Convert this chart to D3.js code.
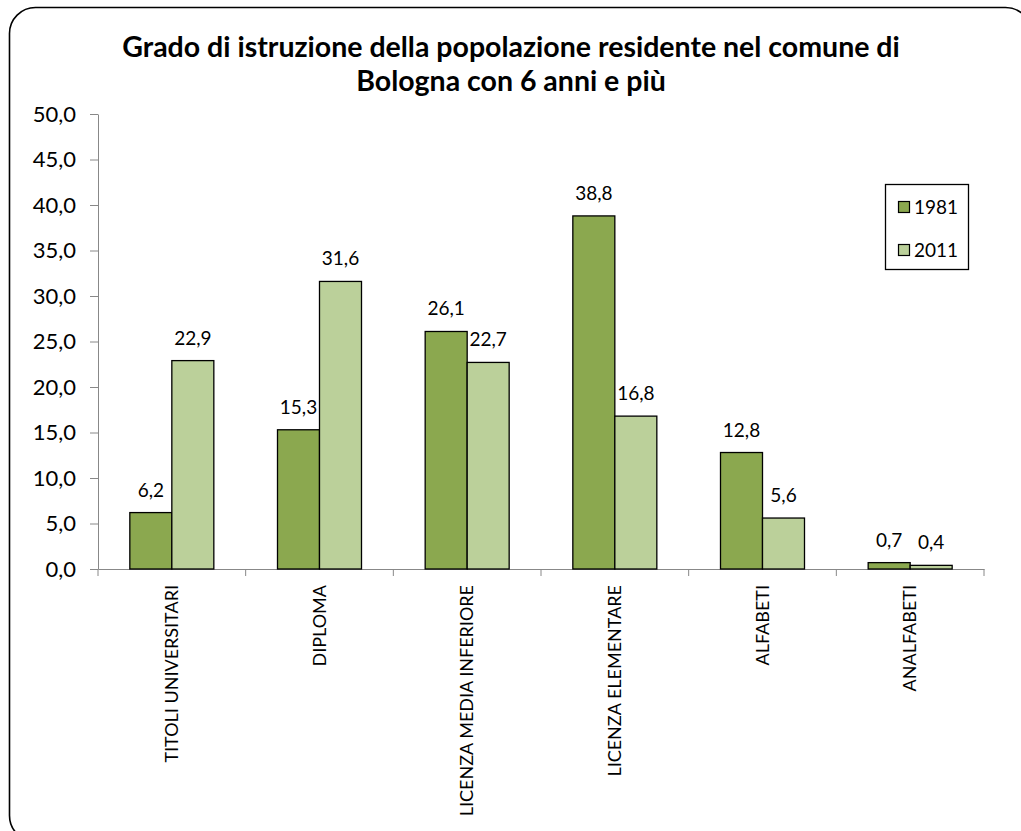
<!DOCTYPE html>
<html><head><meta charset="utf-8">
<script src="https://cdn.jsdelivr.net/npm/d3@7"></script>
<style>body{margin:0;background:#fff}svg{display:block}text{font-family:Lato,"Open Sans",sans-serif}</style>
</head><body><svg id="c" width="1021" height="831"></svg>
<script>
const categories = ["TITOLI UNIVERSITARI","DIPLOMA","LICENZA MEDIA INFERIORE","LICENZA ELEMENTARE","ALFABETI","ANALFABETI"];
const seriesNames = ["1981","2011"];
const values1981 = [6.2,15.3,26.1,38.8,12.8,0.7];
const values2011 = [22.9,31.6,22.7,16.8,5.6,0.4];
const yTicks = [0,5,10,15,20,25,30,35,40,45,50];
const colors = ["#8ba84f","#bbd09a"];
const titleLines = ["Grado di istruzione della popolazione residente nel comune di","Bologna con 6 anni e più"];

const svg = d3.select("#c");
svg.append("rect").attr("x",9.5).attr("y",7.5).attr("width",1022).attr("height",834).attr("rx",26).attr("fill","#fff").attr("stroke","#000").attr("stroke-width",1.6);

const L=98, R=984, T=114, B=569;
const fmt = v => v.toFixed(1).replace(".",",");
const x = d3.scaleBand().domain(categories).range([L,R]);
const y = d3.scaleLinear().domain([0,50]).range([B,T]);
const barW = 42;
const xs = d3.scaleBand().domain(seriesNames).range([0,barW*2]);

// title
svg.append("g").selectAll("text").data(titleLines).join("text")
  .attr("x",511).attr("y",(d,i)=>57+i*34).attr("text-anchor","middle")
  .attr("font-size",28.5).attr("font-weight","bold").text(d=>d);

// y axis
const ya = svg.append("g").attr("transform",`translate(${L},0)`)
  .call(d3.axisLeft(y).tickValues(yTicks).tickFormat(fmt).tickSize(8).tickSizeOuter(0));
ya.select(".domain").attr("stroke","#888");
ya.selectAll(".tick line").attr("stroke","#888");
ya.selectAll(".tick text").attr("font-size",22).attr("fill","#000").attr("x",-22).attr("font-family","Lato,sans-serif");

// x axis
const xa = svg.append("g").attr("transform",`translate(0,${B})`)
  .call(d3.axisBottom(x).tickSize(0).tickSizeOuter(0));
xa.select(".domain").attr("stroke","#888");
xa.selectAll(".tick text").attr("font-size",18).attr("fill","#000").attr("font-family","Lato,sans-serif")
  .attr("transform","rotate(-90)").attr("text-anchor","end").attr("x",-16).attr("y",0).attr("dy","0.35em");
const edges = d3.range(categories.length+1).map(i=>L+i*x.bandwidth());
svg.append("g").selectAll("line").data(edges).join("line")
  .attr("x1",d=>d).attr("x2",d=>d).attr("y1",B).attr("y2",B+7).attr("stroke","#888");

// bars
const data = categories.flatMap((c,i)=>[
  {c, s:"1981", v:values1981[i], col:colors[0]},
  {c, s:"2011", v:values2011[i], col:colors[1]}]);
const off = (x.bandwidth()-barW*2)/2;
const g = svg.append("g");
g.selectAll("rect").data(data).join("rect")
  .attr("x",d=>x(d.c)+off+xs(d.s)).attr("y",d=>y(d.v))
  .attr("width",barW).attr("height",d=>B-y(d.v))
  .attr("fill",d=>d.col).attr("stroke","#000").attr("stroke-width",1.3);
g.selectAll("text").data(data).join("text")
  .attr("x",d=>x(d.c)+off+xs(d.s)+barW/2).attr("y",d=>y(d.v)-16)
  .attr("text-anchor","middle").attr("font-size",19).text(d=>fmt(d.v));

// legend
const lg = svg.append("g");
lg.append("rect").attr("x",885.5).attr("y",184.5).attr("width",83).attr("height",85).attr("fill","#fff").attr("stroke","#000").attr("stroke-width",1.3);
seriesNames.forEach((s,i)=>{
  lg.append("rect").attr("x",898.5).attr("y",201.5+i*43).attr("width",11).attr("height",11).attr("fill",colors[i]).attr("stroke","#000").attr("stroke-width",1.2);
  lg.append("text").attr("x",914).attr("y",207+i*43).attr("dy","0.35em").attr("font-size",19).text(s);
});
</script></body></html>
